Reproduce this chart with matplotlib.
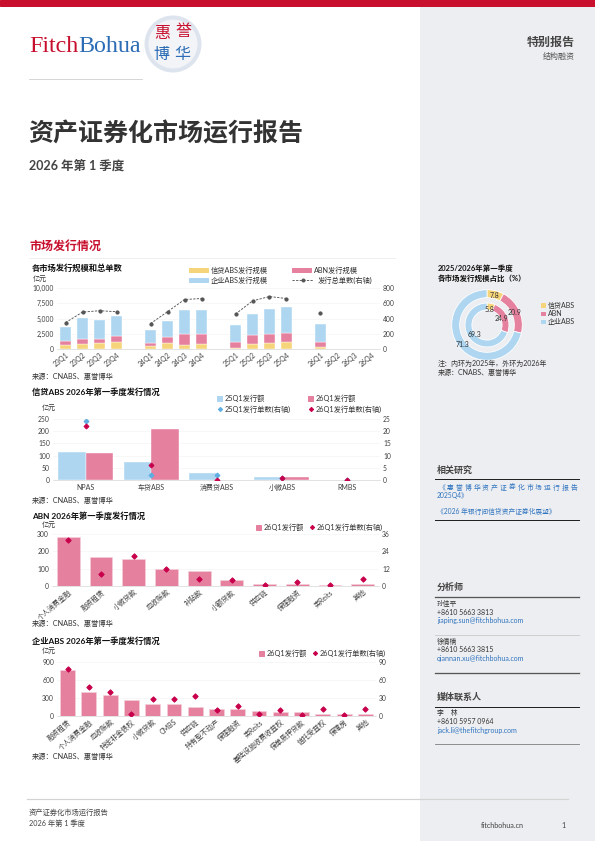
import numpy as np
import matplotlib.pyplot as plt
from matplotlib.patches import Rectangle, Ellipse
from matplotlib.lines import Line2D

plt.rcParams['font.family'] = ['Lato', 'Noto Sans CJK SC', 'DejaVu Sans']

W, H = 595, 841

# ---- data ----
quarters = ['23Q1', '23Q2', '23Q3', '23Q4', '24Q1', '24Q2', '24Q3', '24Q4',
            '25Q1', '25Q2', '25Q3', '25Q4', '26Q1', '26Q2', '26Q3', '26Q4']
nan = np.nan
credit_abs = [700, 865, 920, 1135, 430, 920, 700, 810, 230, 810, 970, 1080, 325, nan, nan, nan]
abn_amt = [650, 815, 760, 915, 600, 1080, 1790, 1680, 985, 1510, 1520, 1570, 870, nan, nan, nan]
corp_abs = [2330, 3350, 3020, 3410, 2050, 2600, 3890, 3940, 2735, 3460, 4100, 4270, 2965, nan, nan, nan]
total_cnt = [346, 484, 502, 489, 333, 489, 649, 662, 458, 631, 688, 662, 476, nan, nan, nan]

share_names = ['信贷ABS', 'ABN', '企业ABS']
share_2025 = [5.8, 24.9, 69.3]
share_2026 = [7.8, 20.9, 71.3]

credit_cats = ['NPAS', '车贷ABS', '消费贷ABS', '小微ABS', 'RMBS']
credit_amt_25 = [113, 72, 29, 14, 0]
credit_amt_26 = [109, 208, 0, 11, 0]
credit_cnt_25 = [24, 2, 2, 1, 0]
credit_cnt_26 = [22, 6, 0, 1, 0]

abn_cats = ['个人消费金融', '融资租赁', '小微贷款', '应收账款', '补贴款', '小额贷款',
            '供应链', '保理融资', '类Reits', '其他']
abn_amt_26 = [283, 166, 157, 97, 87, 33, 10, 10, 4, 10]
abn_cnt_26 = [32, 8, 21, 12, 5, 4, 1, 3, 1, 5]

corp_cats = ['融资租赁', '个人消费金融', '应收账款', '特定非金债权', '小微贷款', 'CMBS', '供应链',
             '持有型不动产', '保理融资', '类Reits', '基础设施收费收益权', '保单质押贷款',
             '信托受益权', '保障房', '其他']
corp_amt_26 = [772, 400, 356, 267, 206, 200, 144, 122, 117, 78, 72, 67, 39, 39, 33]
corp_cnt_26 = [79, 48, 40, 4, 28, 28, 34, 10, 16, 3, 10, 1, 12, 2, 12]

# ---- colours ----
RED = '#C8102E'
BLUE_LOGO = '#2B6CB5'
YEL = '#F6D47A'
PINK = '#E5809F'
LBLUE = '#AED6F1'
MBLUE = '#5DADE2'
CRIMSON = '#C8004B'
SIDE = '#EDEEF1'
TXT = '#333333'
TICK = '#404040'
LINK = '#2F74C0'

fig = plt.figure(figsize=(W / 72, H / 72), dpi=72)


def txt(x, y, s, **kw):
    kw.setdefault('va', 'center')
    kw.setdefault('color', TXT)
    return fig.text(x / W, 1 - y / H, s, **kw)


def hline(x1, x2, y, color='#222222', lw=1.0):
    fig.add_artist(Line2D([x1 / W, x2 / W], [1 - y / H] * 2, color=color, lw=lw))


def add_ax(l, t, r, b):
    ax = fig.add_axes([l / W, 1 - b / H, (r - l) / W, (b - t) / H])
    ax.set_facecolor('none')
    ax.set_zorder(2)
    return ax


def style(ax, ax2):
    for a in (ax, ax2):
        for s in a.spines.values():
            s.set_visible(False)
        a.tick_params(length=0, labelsize=6.8, colors=TICK, pad=3)
    ax.spines['bottom'].set_visible(True)
    ax.spines['bottom'].set_color('#D0D0D0')
    ax.spines['bottom'].set_linewidth(0.6)
    ax.grid(axis='y', color='#F0F0F0', lw=0.5)
    ax.set_axisbelow(True)


def leg_patch(x, y, color, label, w=5, h=5, size=7.3):
    fig.patches.append(Rectangle((x / W, 1 - (y + h / 2) / H), w / W, h / H,
                                 transform=fig.transFigure, color=color))
    txt(x + w + 3, y, label, fontsize=size)


def leg_marker(x, y, color, label, marker='D', ms=3, size=7.3, line=False, lx=None):
    if line:
        fig.add_artist(Line2D([x / W, lx / W], [1 - y / H] * 2, color=color,
                              lw=0.9, ls=(0, (2.5, 1.5))))
        fig.add_artist(Line2D([(x + lx) / 2 / W], [1 - y / H], color=color,
                              marker='o', ms=ms))
        txt(lx + 5, y, label, fontsize=size)
    else:
        fig.add_artist(Line2D([x / W], [1 - y / H], color=color, marker=marker, ms=ms,
                              ls='none'))
        txt(x + 5, y, label, fontsize=size)


# ---- page frame ----
fig.patches.append(Rectangle((420 / W, 0), (W - 420) / W, (H - 6) / H,
                             transform=fig.transFigure, color=SIDE, zorder=0))
fig.patches.append(Rectangle((0, 1 - 6 / H), 1, 6 / H, transform=fig.transFigure,
                             color=RED, zorder=0))

# logo
txt(29, 46, 'Fitch', fontsize=24, color=RED, family='Liberation Serif', va='center')
txt(78, 46, 'Bohua', fontsize=24, color=BLUE_LOGO, family='Liberation Serif', va='center')
fig.patches.append(Ellipse((173 / W, 1 - 44 / H), 56 / W, 56 / H, transform=fig.transFigure,
                           color='#DDE4EE', zorder=1))
fig.patches.append(Ellipse((173 / W, 1 - 44 / H), 48 / W, 48 / H, transform=fig.transFigure,
                           color='#F2F4F8', zorder=1))
txt(162, 34, '惠', fontsize=16, color=RED, ha='center', zorder=3)
txt(183, 32, '誉', fontsize=16, color=RED, ha='center', zorder=3)
txt(161.5, 55, '博', fontsize=16, color=BLUE_LOGO, ha='center', zorder=3)
txt(182, 55, '华', fontsize=16, color=BLUE_LOGO, ha='center', zorder=3)
hline(29, 142, 79, color='#CCCCCC', lw=0.8)

txt(575, 42, '特别报告', fontsize=12, weight='bold', ha='right', color='#444444')
txt(575, 56, '结构融资', fontsize=8, ha='right', color='#555555')

txt(28, 133, '资产证券化市场运行报告', fontsize=25, weight='bold', color='#333333')
txt(29, 165, '2026 年第 1 季度', fontsize=12.5, weight='bold', color='#444444')
txt(29, 246, '市场发行情况', fontsize=12, weight='bold', color=RED)
hline(29, 395, 258, color='#E6E6E6', lw=0.6)

# ---- chart 1: issuance by market ----
txt(32, 268, '各市场发行规模和总单数', fontsize=8.3, weight='bold', color='#111111')
leg_patch(189, 270, YEL, '信贷ABS发行规模', w=19, h=4.5)
leg_patch(292, 270, PINK, 'ABN发行规模', w=19, h=4.5)
leg_patch(189, 280, LBLUE, '企业ABS发行规模', w=19, h=4.5)
leg_marker(292, 280, '#555555', '发行总单数(右轴)', ms=3, line=True, lx=313)
txt(33, 278, '亿元', fontsize=7)

ax1 = add_ax(57, 288, 380, 349)
xq = np.array([i // 4 * 5 + i % 4 for i in range(len(quarters))])
c1 = np.array(credit_abs, dtype=float)
a1 = np.array(abn_amt, dtype=float)
k1 = np.array(corp_abs, dtype=float)
ax1.bar(xq, c1, width=0.6, color=YEL, edgecolor='white', lw=0.4)
ax1.bar(xq, a1, bottom=c1, width=0.6, color=PINK, edgecolor='white', lw=0.4)
ax1.bar(xq, k1, bottom=c1 + a1, width=0.6, color=LBLUE, edgecolor='white', lw=0.4)
ax1.set_ylim(0, 10000)
ax1.set_yticks(np.arange(0, 10001, 2500))
ax1.set_yticklabels([f'{v:,}' for v in range(0, 10001, 2500)])
ax1.set_xlim(-0.5, 18.5)
ax1.set_xticks(xq)
ax1.set_xticklabels(quarters, rotation=40, ha='right', rotation_mode='anchor')
ax1b = ax1.twinx()
ax1b.set_zorder(3)
cnt = np.array(total_cnt, dtype=float)
for yr in range(4):
    s = slice(yr * 4, yr * 4 + 4)
    ax1b.plot(xq[s], cnt[s], color='#555555', lw=0.9, ls=(0, (2.5, 1.5)),
              marker='o', ms=3.2)
ax1b.set_ylim(0, 800)
ax1b.set_yticks(np.arange(0, 801, 200))
style(ax1, ax1b)
ax1.tick_params(axis='x', pad=2, labelsize=7)
txt(32, 376, '来源：CNABS、惠誉博华', fontsize=7.2)

# ---- donut ----
txt(438, 268, '2025/2026年第一季度', fontsize=7.5, weight='bold', color='#111111')
txt(438, 278, '各市场发行规模占比（%）', fontsize=7.5, weight='bold', color='#111111')
axd = add_ax(442, 280, 532, 370)
cols = [YEL, PINK, LBLUE]
axd.pie(share_2026, radius=0.98, colors=cols, startangle=90, counterclock=False,
        wedgeprops=dict(width=0.22, edgecolor='white', lw=0.8),
        autopct='%.1f', pctdistance=0.87,
        textprops=dict(fontsize=7, color=TXT))
axd.pie(share_2025, radius=0.61, colors=cols, startangle=90, counterclock=False,
        wedgeprops=dict(width=0.19, edgecolor='white', lw=0.8),
        autopct='%.1f', pctdistance=0.72,
        textprops=dict(fontsize=7, color=TXT))
axd.set_xlim(-1.25, 1.25)
axd.set_ylim(-1.25, 1.25)
for i, (nm, c) in enumerate(zip(share_names, cols)):
    leg_patch(541, 305 + i * 8.3, c, nm, w=3.5, h=3.5, size=7)
txt(438, 363, '注：内环为2025年，外环为2026年', fontsize=7)
txt(438, 372, '来源：CNABS、惠誉博华', fontsize=7)

# ---- chart 2: credit ABS ----
txt(32, 392, '信贷ABS 2026年第一季度发行情况', fontsize=8.3, weight='bold', color='#111111')
leg_patch(217, 398, LBLUE, '25Q1发行额', w=5, h=5)
leg_patch(308, 398, PINK, '26Q1发行额', w=5, h=5)
leg_marker(219.5, 409, MBLUE, '25Q1发行单数(右轴)', ms=3)
leg_marker(310.5, 409, CRIMSON, '26Q1发行单数(右轴)', ms=3)
txt(42, 408, '亿元', fontsize=7)

ax2 = add_ax(53, 419, 380, 480)
x2 = np.arange(len(credit_cats))
ax2.bar(x2 - 0.21, credit_amt_25, width=0.42, color=LBLUE, edgecolor='white', lw=0.4)
ax2.bar(x2 + 0.21, credit_amt_26, width=0.42, color=PINK, edgecolor='white', lw=0.4)
ax2.set_ylim(0, 250)
ax2.set_yticks(np.arange(0, 251, 50))
ax2.set_xlim(-0.5, len(credit_cats) - 0.5)
ax2.set_xticks(x2)
ax2.set_xticklabels(credit_cats)
ax2b = ax2.twinx()
ax2b.set_zorder(3)
ax2b.plot(x2, credit_cnt_25, ls='none', marker='D', ms=3.5, color=MBLUE)
ax2b.plot(x2, credit_cnt_26, ls='none', marker='D', ms=3.5, color=CRIMSON)
ax2b.set_ylim(0, 25)
ax2b.set_yticks(np.arange(0, 26, 5))
style(ax2, ax2b)
ax2.tick_params(axis='x', pad=4, labelsize=7)
txt(32, 500, '来源：CNABS、惠誉博华', fontsize=7.2)

# ---- chart 3: ABN ----
txt(32, 516, 'ABN 2026年第一季度发行情况', fontsize=8.3, weight='bold', color='#111111')
leg_patch(256, 527, PINK, '26Q1发行额', w=5, h=5)
leg_marker(312, 527, CRIMSON, '26Q1发行单数(右轴)', ms=3)
txt(42, 524, '亿元', fontsize=7)

ax3 = add_ax(52, 534, 379, 586)
x3 = np.arange(len(abn_cats))
ax3.bar(x3, abn_amt_26, width=0.7, color=PINK, edgecolor='#F6D0DC', lw=0.6)
ax3.set_ylim(0, 300)
ax3.set_yticks(np.arange(0, 301, 100))
ax3.set_xlim(-0.5, len(abn_cats) - 0.5)
ax3.set_xticks(x3)
ax3.set_xticklabels(abn_cats, rotation=40, ha='right', rotation_mode='anchor')
ax3b = ax3.twinx()
ax3b.set_zorder(3)
ax3b.plot(x3, abn_cnt_26, ls='none', marker='D', ms=3.8, color=CRIMSON)
ax3b.set_ylim(0, 36)
ax3b.set_yticks(np.arange(0, 37, 12))
style(ax3, ax3b)
ax3.tick_params(axis='x', pad=2, labelsize=7)
txt(32, 623, '来源：CNABS、惠誉博华', fontsize=7.2)

# ---- chart 4: corporate ABS ----
txt(32, 641, '企业ABS 2026年第一季度发行情况', fontsize=8.3, weight='bold', color='#111111')
leg_patch(259, 653, PINK, '26Q1发行额', w=5, h=5)
leg_marker(315, 653, CRIMSON, '26Q1发行单数(右轴)', ms=3)
txt(42, 651, '亿元', fontsize=7)

ax4 = add_ax(57, 662, 376, 716)
x4 = np.arange(len(corp_cats))
ax4.bar(x4, corp_amt_26, width=0.7, color=PINK, edgecolor='#F6D0DC', lw=0.6)
ax4.set_ylim(0, 900)
ax4.set_yticks(np.arange(0, 901, 300))
ax4.set_xlim(-0.5, len(corp_cats) - 0.5)
ax4.set_xticks(x4)
ax4.set_xticklabels(corp_cats, rotation=40, ha='right', rotation_mode='anchor')
ax4b = ax4.twinx()
ax4b.set_zorder(3)
ax4b.plot(x4, corp_cnt_26, ls='none', marker='D', ms=3.8, color=CRIMSON)
ax4b.set_ylim(0, 90)
ax4b.set_yticks(np.arange(0, 91, 30))
style(ax4, ax4b)
ax4.tick_params(axis='x', pad=2, labelsize=7)
txt(32, 756, '来源：CNABS、惠誉博华', fontsize=7.2)

# ---- sidebar ----
txt(437, 470, '相关研究', fontsize=9, weight='bold', color='#444444')
hline(435, 579, 479.5, lw=1.0)
link1 = '《惠誉博华资产证券化市场运行报告'
step = 141 / len(link1)
for i, ch in enumerate(link1):
    txt(437 + (i + 0.5) * step, 487.5, ch, fontsize=6.8, color=LINK, ha='center')
txt(437, 496, '2025Q4》', fontsize=6.8, color=LINK)
txt(437, 511.5, '《2026 年银行间信贷资产证券化展望》', fontsize=6.8, color=LINK)
hline(435, 579, 520, lw=1.0)

txt(437, 587, '分析师', fontsize=9, weight='bold', color='#444444')
hline(435, 579, 597, color='#555555', lw=1.3)
txt(437, 603.5, '孙佳平', fontsize=6.8, color='#333333')
txt(437, 612.5, '+8610 5663 3813', fontsize=7, color='#333333')
txt(437, 621, 'jiaping.sun@fitchbohua.com', fontsize=7, color=LINK)
hline(435, 579, 634.5, color='#C8C8C8', lw=0.8)
txt(437, 641, '徐倩楠', fontsize=6.8, color='#333333')
txt(437, 650, '+8610 5663 3815', fontsize=7, color='#333333')
txt(437, 659, 'qiannan.xu@fitchbohua.com', fontsize=7, color=LINK)
hline(435, 579, 672.5, color='#555555', lw=1.3)

txt(437, 697, '媒体联系人', fontsize=9, weight='bold', color='#444444')
hline(435, 579, 707, lw=1.0)
txt(437, 713, '李    林', fontsize=6.8, color='#333333')
txt(437, 722, '+8610 5957 0964', fontsize=7, color='#333333')
txt(437, 731, 'jack.li@thefitchgroup.com', fontsize=7, color=LINK)
hline(435, 579, 744, color='#777777', lw=0.8)

# ---- footer ----
hline(27, 568, 799, color='#D3D3D3', lw=1.2)
txt(29, 812, '资产证券化市场运行报告', fontsize=7.3, color='#444444')
txt(29, 823, '2026 年第 1 季度', fontsize=7.3, color='#444444')
txt(524, 825, 'fitchbohua.cn', fontsize=7.3, color='#444444', ha='right')
txt(566, 825, '1', fontsize=7.3, color='#444444', ha='right')

fig.savefig('out.png', dpi=72)
